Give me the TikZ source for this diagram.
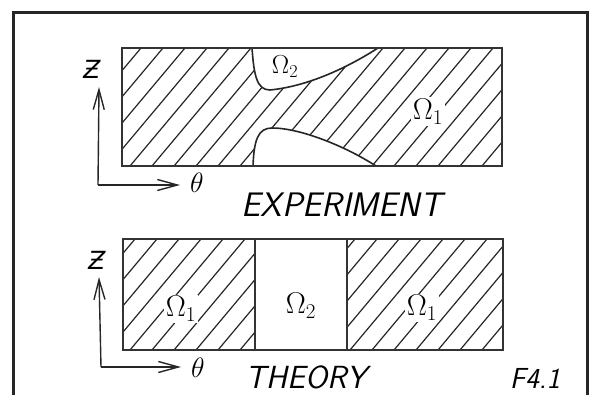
\RequirePackage{fix-cm}
\documentclass[tikz,border=0pt]{standalone}
\usepackage{fontspec}
\newfontfamily\strokefont{DejaVu Sans}
\usetikzlibrary{arrows.meta}

\begin{document}
\begin{tikzpicture}[
    x=1pt, y=-1pt,
    frameline/.style={line width=3pt, draw=black!85},
    boxline/.style={line width=2.2pt, draw=black!80},
    hatchline/.style={line width=1.2pt, draw=black!85},
    edgeline/.style={line width=1.6pt, draw=black!85},
    axisarrow/.style={line width=1.4pt, draw=black!85, -{Straight Barb[length=20pt,width=11pt,line width=1.4pt]}},
    omega/.style={font=\fontsize{30}{30}\selectfont, fill=white, inner sep=2pt},
    smallomega/.style={font=\fontsize{26}{26}\selectfont, inner sep=1pt},
    axislabel/.style={font=\fontsize{28}{28}\selectfont, inner sep=0pt},
    caption/.style={font=\fontsize{32}{32}\selectfont\sffamily\slshape, inner sep=0pt}
]
\useasboundingbox (0,0) rectangle (591,395);

% frame round the figure
\draw[frameline] (13,395) -- (13,13) -- (587,13) -- (587,395);

% experiment
\begin{scope}
    \clip (122,48) rectangle (502,166);
    \foreach \s in {20,42,...,520}
        \draw[hatchline] (\s,166) -- ++(99,-118);
    \fill[white] (252,48) .. controls (254,76) and (257,90) .. (270,90)
        .. controls (310,86) and (350,66) .. (378,48) -- cycle;
    \fill[white] (253,166) .. controls (254,140) and (258,128) .. (272,128)
        .. controls (300,128) and (345,146) .. (376,166) -- cycle;
\end{scope}
\draw[edgeline] (252,48) .. controls (254,76) and (257,90) .. (270,90)
    .. controls (310,86) and (350,66) .. (378,48);
\draw[edgeline] (253,166) .. controls (254,140) and (258,128) .. (272,128)
    .. controls (300,128) and (345,146) .. (376,166);
\draw[boxline] (122,48) rectangle (502,166);

\node[smallomega] (expOmegaTwo) at (285,67) {$\Omega_2$};
\node[omega] (expOmegaOne) at (428,112) {$\Omega_1$};

\coordinate (expOrigin) at (98,185);
\coordinate (expZ) at (99,87);
\coordinate (expTheta) at (180,185);
\draw[axisarrow] (expOrigin) -- (expZ);
\draw[axisarrow] (expOrigin) -- (expTheta);
\node[axislabel, font=\fontsize{25}{25}\selectfont] (expZlabel) at (92,69) {\strokefont\itshape Ƶ};
\node[axislabel] (expThetaLabel) at (197,183) {$\theta$};
\node[caption, font=\fontsize{34}{34}\selectfont\sffamily\slshape] (expCaption) at (342,205) {EXPERIMENT};

% theory
\begin{scope}
    \clip (123,239) rectangle (255,350) (347,239) rectangle (503,350);
    \foreach \s in {20,42,...,520}
        \draw[hatchline] (\s,350) -- ++(93,-111);
\end{scope}
\draw[boxline] (123,239) rectangle (503,350);
\draw[boxline] (255,239) -- (255,350);
\draw[boxline] (347,239) -- (347,350);

\node[omega] (thyOmegaOneLeft) at (181,309) {$\Omega_1$};
\node[omega] (thyOmegaTwo) at (301,306) {$\Omega_2$};
\node[omega] (thyOmegaOneRight) at (422,308) {$\Omega_1$};

\coordinate (thyOrigin) at (101,367);
\coordinate (thyZ) at (99,277);
\coordinate (thyTheta) at (181,367);
\draw[axisarrow] (thyOrigin) -- (thyZ);
\draw[axisarrow] (thyOrigin) -- (thyTheta);
\node[axislabel, font=\fontsize{25}{25}\selectfont] (thyZlabel) at (97,260) {\strokefont\itshape Ƶ};
\node[axislabel] (thyThetaLabel) at (198,368) {$\theta$};
\node[caption] (thyCaption) at (306,377) {THEORY};
\node[caption, font=\fontsize{29}{29}\selectfont\sffamily\slshape] (figTag) at (535,378) {F4.1};

\end{tikzpicture}
\end{document}
